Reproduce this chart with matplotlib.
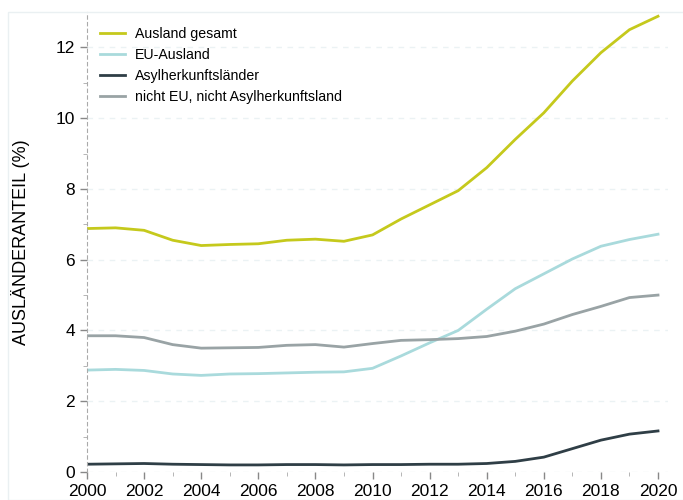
import matplotlib.pyplot as plt
import numpy as np
from matplotlib.patches import Rectangle

plt.rcParams['font.family'] = ['Liberation Sans', 'DejaVu Sans']

years = np.arange(2000, 2021)
ausland = [6.88, 6.90, 6.83, 6.55, 6.40, 6.43, 6.45, 6.55, 6.58, 6.52, 6.70,
           7.15, 7.55, 7.95, 8.60, 9.40, 10.15, 11.05, 11.85, 12.50, 12.88]
eu = [2.88, 2.90, 2.87, 2.77, 2.73, 2.77, 2.78, 2.80, 2.82, 2.83, 2.93,
      3.28, 3.65, 4.00, 4.60, 5.18, 5.60, 6.02, 6.38, 6.57, 6.72]
asyl = [0.22, 0.23, 0.24, 0.22, 0.21, 0.20, 0.20, 0.21, 0.21, 0.20, 0.21,
        0.21, 0.22, 0.22, 0.24, 0.30, 0.42, 0.66, 0.90, 1.07, 1.16]
rest = [3.85, 3.85, 3.80, 3.60, 3.50, 3.51, 3.52, 3.58, 3.60, 3.53, 3.63,
        3.72, 3.74, 3.77, 3.83, 3.98, 4.18, 4.45, 4.68, 4.93, 5.00]

names = ['Ausland gesamt', 'EU-Ausland', 'Asylherkunftsländer',
         'nicht EU, nicht Asylherkunftsland']
colors = ['#c5c91c', '#a9dadc', '#2f3e46', '#99a3a5']

fig = plt.figure(figsize=(6.83, 5), dpi=100)
fig.patches.append(Rectangle((8/683, 0), 1, 1 - 12/500, transform=fig.transFigure,
                             fill=False, edgecolor='#eaf0f2', lw=1))
ax = fig.add_axes([87/683, 28/500, (668-87)/683, (500-28-12)/500])

for s, n, c in zip([ausland, eu, asyl, rest], names, colors):
    ax.plot(years, s, color=c, lw=2, label=n)

ax.set_xlim(2000, 2020.35)
ax.set_ylim(0, 13.0)
ax.set_xticks(range(2000, 2021, 2))
ax.set_xticks(range(2001, 2021, 2), minor=True)
ax.set_yticks(range(0, 13, 2))
ax.set_yticks(range(1, 13, 2), minor=True)
ax.tick_params(labelsize=12.5, colors='#888888', labelcolor='black', length=5, width=1)
ax.tick_params(which='minor', length=3, color='#aaaaaa')

for sp in ['top', 'right', 'bottom']:
    ax.spines[sp].set_visible(False)
ax.spines['left'].set_linestyle((0, (3, 3)))
ax.spines['left'].set_color('#aaaaaa')

ax.yaxis.grid(True, color='#ebf2f4', ls=(0, (4, 4)), lw=1)
ax.set_ylabel('AUSLÄNDERANTEIL (%)', fontsize=13)
ax.yaxis.set_label_coords(-0.098, 0.5)

ax.legend(loc='upper left', frameon=False, fontsize=10.2, handlelength=1.8,
          handletextpad=0.7, labelspacing=0.5, bbox_to_anchor=(0.0, 0.995))

plt.savefig('out.png')
